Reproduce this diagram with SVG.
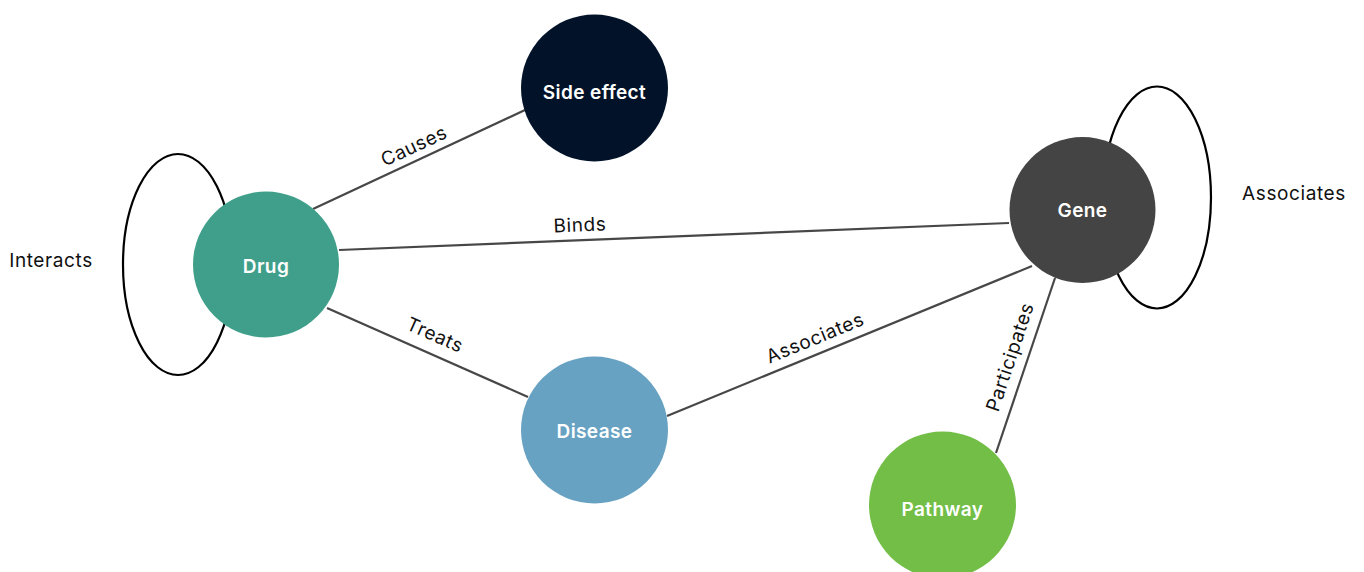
<svg xmlns="http://www.w3.org/2000/svg" width="1364" height="572" viewBox="0 0 1364 572">
  <style>
    .edge { stroke: #474747; stroke-width: 2.2; fill: none; }
    .loop { stroke: #000; stroke-width: 2.2; fill: none; }
    .elabel { font-family: Inter, "Open Sans", sans-serif; font-size: 19px; letter-spacing: 0.6px; fill: #111; text-anchor: middle; dominant-baseline: central; }
    .nlabel { font-family: Inter, "Open Sans", sans-serif; font-size: 19px; font-weight: 600; letter-spacing: 0.4px; fill: #fff; text-anchor: middle; dominant-baseline: central; }
  </style>
  <rect width="1364" height="572" fill="#fff"/>

  <!-- connectors, drawn beneath the nodes -->
  <g id="connectors">
    <ellipse class="loop" cx="178" cy="264.5" rx="55" ry="110.5"/>
    <ellipse class="loop" cx="1157" cy="197.5" rx="54" ry="111"/>
    <line class="edge" x1="313" y1="209" x2="525" y2="110"/>
    <line class="edge" x1="339" y1="250" x2="1009" y2="223"/>
    <line class="edge" x1="327" y1="308" x2="528" y2="397"/>
    <line class="edge" x1="667" y1="416" x2="1032" y2="266"/>
    <line class="edge" x1="1055" y1="278" x2="996" y2="453"/>
    <text class="elabel" x="51" y="260">Interacts</text>
    <text class="elabel" x="1294" y="193">Associates</text>
    <text class="elabel" transform="translate(414 146) rotate(-25)">Causes</text>
    <text class="elabel" transform="translate(580 225) rotate(-2.3)">Binds</text>
    <text class="elabel" transform="translate(435 335) rotate(23.9)">Treats</text>
    <text class="elabel" transform="translate(815 338) rotate(-22.3)">Associates</text>
    <text class="elabel" transform="translate(1010 357) rotate(-71.5)">Participates</text>
  </g>

  <g id="node-drug">
    <circle cx="266" cy="264.5" r="73" fill="#3F9F8A"/>
    <text class="nlabel" x="266" y="266">Drug</text>
  </g>
  <g id="node-side-effect">
    <circle cx="594.5" cy="88" r="73.5" fill="#021329"/>
    <text class="nlabel" x="594.5" y="92">Side effect</text>
  </g>
  <g id="node-gene">
    <circle cx="1082.5" cy="210" r="73" fill="#444444"/>
    <text class="nlabel" x="1082.5" y="210">Gene</text>
  </g>
  <g id="node-disease">
    <circle cx="594.5" cy="430" r="73.5" fill="#68A2C2"/>
    <text class="nlabel" x="594.5" y="431">Disease</text>
  </g>
  <g id="node-pathway">
    <circle cx="942.5" cy="505" r="73.5" fill="#72BE47"/>
    <text class="nlabel" x="942.5" y="509">Pathway</text>
  </g>
</svg>
